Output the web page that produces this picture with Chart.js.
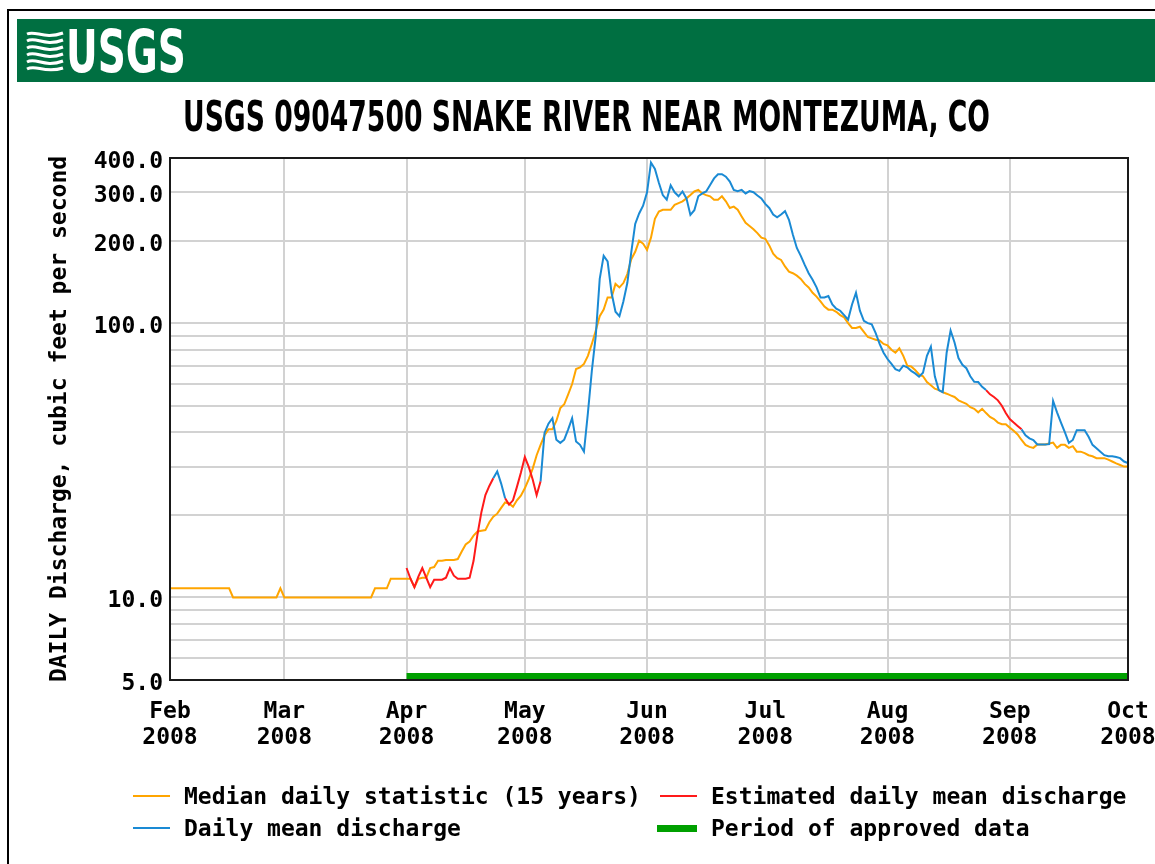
<!DOCTYPE html>
<html lang="en">
<head>
    <meta charset="UTF-8">
    <title>USGS 09047500 SNAKE RIVER NEAR MONTEZUMA, CO</title>
    <script src="https://cdn.jsdelivr.net/npm/chart.js"></script>
    <style>
        body {
            margin: 0;
            width: 1155px;
            height: 864px;
            overflow: hidden;
            position: relative;
            background: #fff;
            font-family: "DejaVu Sans Mono", monospace;
        }

        #frame {
            position: absolute;
            left: 7px;
            top: 9px;
            width: 1200px;
            height: 900px;
            border-left: 2px solid #000;
            border-top: 2px solid #000;
        }

        /* green USGS banner */
        #banner {
            position: absolute;
            left: 17px;
            top: 19px;
            width: 1138px;
            height: 63px;
            background: #006f41;
        }

        #banner svg {
            position: absolute;
            left: 9px;
            top: 11px;
        }

        #logoText {
            position: absolute;
            left: 49px;
            top: 4px;
            display: inline-block;
            white-space: nowrap;
            color: #fff;
            font-family: "Liberation Sans Narrow", "DejaVu Sans Condensed", "Liberation Sans", sans-serif;
            font-stretch: condensed;
            font-weight: bold;
            font-size: 58px;
            line-height: 1;
            transform-origin: left top;
        }

        #title {
            position: absolute;
            left: 183px;
            top: 96px;
            display: inline-block;
            white-space: nowrap;
            color: #000;
            font-family: "Liberation Sans Narrow", "DejaVu Sans Condensed", "Liberation Sans", sans-serif;
            font-stretch: condensed;
            font-weight: bold;
            font-size: 42px;
            line-height: 1;
            transform-origin: left top;
        }

        #chart {
            position: absolute;
            left: 0;
            top: 0;
        }

        .legend-item {
            position: absolute;
            height: 32px;
            line-height: 32px;
            font-size: 23px;
            font-weight: bold;
            color: #000;
            white-space: nowrap;
        }

        .legend-item .swatch {
            position: absolute;
            top: 15px;
            height: 2px;
        }

        .legend-item .label {
            position: absolute;
            white-space: nowrap;
        }
    </style>
</head>
<body>
    <div id="frame"></div>

    <canvas id="chart" width="1155" height="864"></canvas>

    <div id="banner">
        <svg width="38" height="42" viewBox="0 0 38 42">
            <g fill="none" stroke="#fff" stroke-width="3">
                <path d="M1 4 C 10 0, 18 10, 37 3"/>
                <path d="M1 11 C 10 6, 18 17, 37 10"/>
                <path d="M1 18 C 10 13, 18 24, 37 17"/>
                <path d="M1 25 C 10 20, 18 31, 37 24"/>
                <path d="M1 32 C 10 27, 18 38, 37 31"/>
                <path d="M1 39 C 10 34, 18 44, 37 38"/>
            </g>
        </svg>
        <span id="logoText">USGS</span>
    </div>

    <span id="title">USGS 09047500 SNAKE RIVER NEAR MONTEZUMA, CO</span>

    <div id="legend"></div>

    <script>
        // Axis labels
        const monthLabels = ['Feb', 'Mar', 'Apr', 'May', 'Jun', 'Jul', 'Aug', 'Sep', 'Oct'];
        const monthLengths = [29, 31, 30, 31, 30, 31, 31, 30];
        const yearLabel = '2008';
        const yLabelValues = [5, 10, 100, 200, 300, 400];
        const yGridValues = [5, 6, 7, 8, 9, 10, 20, 30, 40, 50, 60, 70, 80, 90, 100, 200, 300, 400];

        // Median daily statistic (15 years), one value per day, cfs
        const febMedian = [10.8, 10.8, 10.8, 10.8, 10.8, 10.8, 10.8, 10.8, 10.8, 10.8, 10.8, 10.8, 10.8, 10.8, 10.8, 10.8,
            10.0, 10.0, 10.0, 10.0, 10.0, 10.0, 10.0, 10.0, 10.0, 10.0, 10.0, 10.0, 10.8];
        const marMedian = [10.0, 10.0, 10.0, 10.0, 10.0, 10.0, 10.0, 10.0, 10.0, 10.0, 10.0, 10.0, 10.0, 10.0, 10.0, 10.0,
            10.0, 10.0, 10.0, 10.0, 10.0, 10.0, 10.0, 10.8, 10.8, 10.8, 10.8, 11.7, 11.7, 11.7, 11.7];
        const aprMedian = [11.7, 11.7, 10.9, 11.7, 11.8, 11.8, 12.8, 12.9, 13.6, 13.6, 13.7, 13.7, 13.7, 13.8, 14.7,
            15.6, 16.0, 16.8, 17.4, 17.5, 17.6, 18.8, 19.7, 20.2, 21.2, 22.2, 22.0, 21.4, 22.6, 23.5];
        const mayMedian = [25, 27, 29.5, 33, 36, 39, 41, 41, 44, 49, 50.6, 55, 60, 68, 69, 71, 76, 84, 94, 106,
            112, 124, 124, 139, 135, 140, 151, 171, 182, 200, 195];
        const junMedian = [185, 205, 240, 255, 259, 259, 259, 270, 274, 278, 285, 293, 302, 306, 297, 293, 290, 282,
            282, 290, 278, 263, 266, 259, 245, 232, 226, 220, 213, 205];
        const julMedian = [203, 192, 179, 173, 170, 161, 154, 152, 149, 145, 139, 135, 129, 125, 120, 115, 112, 112,
            110, 107, 105, 100, 96, 96, 97, 93, 89, 88, 87, 86.5, 84];
        const augMedian = [83, 80, 78, 81, 76, 70, 69.5, 67.5, 65, 64, 61, 59.4, 57.7, 57, 56, 55.3, 54.5, 53.8,
            52.3, 51.5, 50.8, 49.4, 48.7, 47.3, 48.7, 47, 45.5, 44.7, 43.4, 42.8, 42.8];
        const sepMedian = [41.6, 40.5, 39.3, 37.5, 36, 35.4, 35.1, 36.1, 36.1, 36.1, 36.4, 36.7, 35.1, 36, 36, 35.1,
            35.6, 34, 34, 33.6, 33, 32.7, 32.2, 32.2, 32.2, 31.8, 31.3, 30.8, 30.4, 30.0];
        const octMedian = [30.0];

        // Daily mean discharge, one value per day from Apr 1, cfs
        const aprDaily = [12.8, 11.7, 10.9, 11.9, 12.8, 11.8, 10.9, 11.6, 11.6, 11.6, 11.8, 12.8, 12.0, 11.7, 11.7,
            11.7, 11.8, 13.6, 17.0, 20.5, 23.6, 25.5, 27.2, 28.8, 26.0, 23.0, 21.8, 22.6, 25.3, 28.5];
        const mayDaily = [32.5, 29.9, 26.9, 23.6, 26.5, 39.8, 43, 45, 37.6, 36.6, 37.6, 41, 45, 37, 36, 34, 47, 67,
            90, 145, 176, 168, 129, 110, 106, 120, 140, 181, 230, 251, 268];
        const junDaily = [300, 385, 365, 325, 293, 282, 318, 300, 290, 302, 285, 248, 258, 290, 297, 302, 319, 337,
            349, 349, 342, 328, 306, 303, 306, 297, 303, 300, 292, 285];
        const julDaily = [272, 263, 249, 243, 249, 256, 238, 210, 188, 176, 163, 152, 144, 135, 124, 124, 125.5,
            117, 113, 111, 107, 103, 117, 129, 111, 102, 100, 99, 92, 84, 78];
        const augDaily = [74, 71, 68, 67, 70, 69, 67, 65.6, 63.8, 66, 76, 82, 64, 57, 56, 78, 94, 85, 74.6, 70.5,
            68.5, 64, 61.1, 61, 58.6, 57, 55, 53.8, 52.3, 50, 47];
        const sepDaily = [44.7, 43.4, 42.2, 41, 39, 38, 37.5, 36.1, 36.1, 36.1, 36.2, 52, 47.3, 43.4, 40, 36.6,
            37.5, 40.7, 40.7, 40.7, 38.5, 36, 35, 34, 33, 32.7, 32.7, 32.5, 32.2, 31.3];
        const octDaily = [30.9];

        // Estimated stretches of the daily record (inclusive)
        const estimatedPeriods = [['Apr', 1, 'Apr', 23], ['Apr', 26, 'May', 5], ['Aug', 26, 'Sep', 4]];
        const approvedPeriod = ['Apr', 1, 'Oct', 1];

        const colors = {
            median: '#ffa500',
            estimated: '#ff1a1a',
            daily: '#1a8ad4',
            approved: '#00a000'
        };

        // Day offsets from Feb 1
        const monthStart = [0];
        monthLengths.forEach((n, i) => monthStart.push(monthStart[i] + n));
        const dayIndex = (mon, d) => monthStart[monthLabels.indexOf(mon)] + d - 1;

        const toPoints = (values, start) => values.map((v, i) => ({ x: start + i, y: v }));

        const median = [...febMedian, ...marMedian, ...aprMedian, ...mayMedian, ...junMedian,
            ...julMedian, ...augMedian, ...sepMedian, ...octMedian];
        const daily = [...aprDaily, ...mayDaily, ...junDaily, ...julDaily, ...augDaily, ...sepDaily, ...octDaily];

        const medianPts = toPoints(median, 0);
        const dailyPts = toPoints(daily, dayIndex('Apr', 1));

        const estRanges = estimatedPeriods.map(p => [dayIndex(p[0], p[1]), dayIndex(p[2], p[3])]);
        const inEst = x => estRanges.some(r => x >= r[0] && x <= r[1]);
        const inEstInside = x => estRanges.some(r => x > r[0] && x < r[1]);

        const estPts = dailyPts.map(p => ({ x: p.x, y: inEst(p.x) ? p.y : null }));
        const meanPts = dailyPts.map(p => ({ x: p.x, y: inEstInside(p.x) ? null : p.y }));
        const approvedPts = [
            { x: dayIndex(approvedPeriod[0], approvedPeriod[1]), y: yGridValues[0] },
            { x: dayIndex(approvedPeriod[2], approvedPeriod[3]), y: yGridValues[0] }
        ];

        // black box round the plot area
        const plotFrame = {
            id: 'plotFrame',
            afterDatasetsDraw(chart) {
                const { ctx, chartArea: a } = chart;
                ctx.save();
                ctx.strokeStyle = '#1a1a1a';
                ctx.lineWidth = 2;
                ctx.strokeRect(a.left, a.top, a.right - a.left, a.bottom - a.top);
                ctx.restore();
            }
        };

        const tickFont = { family: 'DejaVu Sans Mono', size: 23, weight: 'bold', lineHeight: 1.13 };
        const lineStyle = { borderWidth: 2, pointRadius: 0, tension: 0, spanGaps: false, fill: false };

        new Chart(document.getElementById('chart').getContext('2d'), {
            type: 'line',
            data: {
                datasets: [
                    { label: 'Daily mean discharge', data: meanPts, borderColor: colors.daily, ...lineStyle },
                    { label: 'Estimated daily mean discharge', data: estPts, borderColor: colors.estimated, ...lineStyle },
                    { label: 'Median daily statistic (15 years)', data: medianPts, borderColor: colors.median, ...lineStyle },
                    { label: 'Period of approved data', data: approvedPts, borderColor: colors.approved,
                      ...lineStyle, borderWidth: 14, borderCapStyle: 'butt' }
                ]
            },
            options: {
                responsive: false,
                animation: false,
                layout: { padding: { left: 0, top: 158, right: 27, bottom: 104 } },
                plugins: {
                    legend: { display: false },
                    tooltip: { enabled: false }
                },
                scales: {
                    x: {
                        type: 'linear',
                        min: 0,
                        max: monthStart[monthStart.length - 1],
                        afterBuildTicks: s => { s.ticks = monthStart.map(v => ({ value: v })); },
                        afterFit: s => { s.height = 80; s.paddingLeft = 0; s.paddingRight = 0; },
                        grid: { color: '#d2d2d2', lineWidth: 2, drawTicks: false },
                        border: { display: false },
                        ticks: {
                            autoSkip: false,
                            maxRotation: 0,
                            padding: 19,
                            color: '#000',
                            font: tickFont,
                            callback: (v, i) => [monthLabels[i], yearLabel]
                        }
                    },
                    y: {
                        type: 'logarithmic',
                        min: 5,
                        max: 400,
                        afterBuildTicks: s => { s.ticks = yGridValues.map(v => ({ value: v })); },
                        afterFit: s => { s.width = 170; },
                        grid: { color: '#d2d2d2', lineWidth: 2, drawTicks: false },
                        border: { display: false },
                        ticks: {
                            autoSkip: false,
                            padding: 7,
                            labelOffset: 4,
                            color: '#000',
                            font: tickFont,
                            callback: v => yLabelValues.includes(v) ? v.toFixed(1) : ''
                        },
                        title: {
                            display: true,
                            text: 'DAILY Discharge, cubic feet per second',
                            color: '#000',
                            font: { family: 'DejaVu Sans Mono', size: 23, weight: 'bold', lineHeight: 1.2 },
                            padding: { top: 46, bottom: 0 }
                        }
                    }
                }
            },
            plugins: [plotFrame]
        });

        // legend, two columns
        const legendItems = [
            { text: 'Median daily statistic (15 years)', color: colors.median, left: 133, top: 780, thick: 2, sw: 37 },
            { text: 'Estimated daily mean discharge', color: colors.estimated, left: 660, top: 780, thick: 2, sw: 37 },
            { text: 'Daily mean discharge', color: colors.daily, left: 133, top: 812, thick: 2, sw: 37 },
            { text: 'Period of approved data', color: colors.approved, left: 657, top: 812, thick: 7, sw: 40 }
        ];
        const legend = document.getElementById('legend');
        legendItems.forEach(it => {
            const el = document.createElement('div');
            el.className = 'legend-item';
            el.style.left = it.left + 'px';
            el.style.top = it.top + 'px';
            const sw = document.createElement('span');
            sw.className = 'swatch';
            sw.style.left = '0px';
            sw.style.width = it.sw + 'px';
            sw.style.height = it.thick + 'px';
            sw.style.top = (16 - it.thick / 2) + 'px';
            sw.style.background = it.color;
            const lb = document.createElement('span');
            lb.className = 'label';
            lb.style.left = (it.sw + 14) + 'px';
            lb.textContent = it.text;
            el.appendChild(sw);
            el.appendChild(lb);
            legend.appendChild(el);
        });

        // squeeze the condensed headings to the reference widths
        function fitWidth(id, width) {
            const el = document.getElementById(id);
            const w = el.getBoundingClientRect().width;
            if (w > 0) el.style.transform = 'scaleX(' + (width / w) + ')';
        }
        fitWidth('title', 807);
        fitWidth('logoText', 120);
    </script>
</body>
</html>
